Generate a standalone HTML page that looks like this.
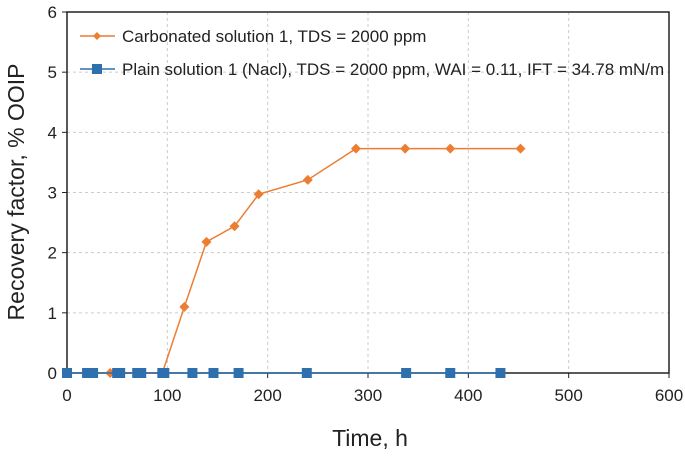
<!DOCTYPE html>
<html><head><meta charset="utf-8"><style>body{margin:0;background:#fff}svg{font-family:"Liberation Sans",sans-serif}</style></head>
<body>
<svg width="685" height="453" id="c"></svg>
<script>
const xTicks=[0,100,200,300,400,500,600];
const yTicks=[0,1,2,3,4,5,6];
const carbT=[43,95,117,139,167,191,240,288,337,382,452];
const carbV=[0,0,1.1,2.18,2.44,2.97,3.21,3.73,3.73,3.73,3.73];
const plainT=[0,20,26,50,53,70,74,95,97,125,146,171,239,338,382,432];
const plainV=[0,0,0,0,0,0,0,0,0,0,0,0,0,0,0,0];
const L=67,R=669,T=12,B=373;
const sx=v=>L+(R-L)*v/600, sy=v=>B-(B-T)*v/6;
const svg=document.getElementById('c');const NS='http://www.w3.org/2000/svg';
function mk(t,a,p){const e=document.createElementNS(NS,t);for(const k in a)e.setAttribute(k,a[k]);(p||svg).appendChild(e);return e;}
yTicks.forEach(v=>{if(v>0&&v<6){const g=mk('line',{x1:L,x2:R,y1:sy(v),y2:sy(v),stroke:'#ccc','stroke-dasharray':'3,3'});

}
mk('line',{x1:L-5,x2:L,y1:sy(v),y2:sy(v),stroke:'#222'});
const t=mk('text',{x:L-10,y:sy(v)+6,'text-anchor':'end','font-size':17,fill:'#222'});t.textContent=v;

});
xTicks.forEach(v=>{if(v>0&&v<600){const g=mk('line',{x1:sx(v),x2:sx(v),y1:T,y2:B,stroke:'#ccc','stroke-dasharray':'3,3'});

}
mk('line',{x1:sx(v),x2:sx(v),y1:B,y2:B+5,stroke:'#222'});
const t=mk('text',{x:sx(v),y:B+28,'text-anchor':'middle','font-size':17,fill:'#222'});t.textContent=v;

});
const f=mk('rect',{x:L,y:T,width:R-L,height:B-T,fill:'none',stroke:'#222','stroke-width':1.5});


function series(ts,vs,col,shape,name){
const pl=mk('polyline',{points:ts.map((t,i)=>sx(t)+','+sy(vs[i])).join(' '),fill:'none',stroke:col,'stroke-width':1.5});


ts.forEach((t,i)=>{const x=sx(t),y=sy(vs[i]);let m;
if(shape==='d')m=mk('polygon',{points:`${x},${y-5} ${x+5},${y} ${x},${y+5} ${x-5},${y}`,fill:col});
else m=mk('rect',{x:x-5,y:y-5,width:10,height:10,fill:col});

});}
series(carbT,carbV,'#ec7d31','d','carbonated');
series(plainT,plainV,'#2e6fad','s','plain');
const lg=[['#ec7d31','d','Carbonated solution 1, TDS = 2000 ppm',36],['#2e6fad','s','Plain solution 1 (Nacl), TDS = 2000 ppm, WAI = 0.11, IFT = 34.78 mN/m',69]];
lg.forEach(([c,s,txt,y])=>{mk('line',{x1:80,x2:115,y1:y,y2:y,stroke:c,'stroke-width':1.5});
if(s==='d')mk('polygon',{points:`97,${y-4} 101,${y} 97,${y+4} 93,${y}`,fill:c});else mk('rect',{x:92,y:y-5,width:10,height:10,fill:c});
const t=mk('text',{x:122,y:y+6,'font-size':17,fill:'#222'});t.textContent=txt;

});
const xt=mk('text',{x:370,y:446,'text-anchor':'middle','font-size':23,fill:'#222'});xt.textContent='Time, h';


const yt=mk('text',{x:0,y:0,'text-anchor':'middle','font-size':23,fill:'#222',transform:'translate(24,192) rotate(-90)'});yt.textContent='Recovery factor, % OOIP';


</script>
</body></html>
